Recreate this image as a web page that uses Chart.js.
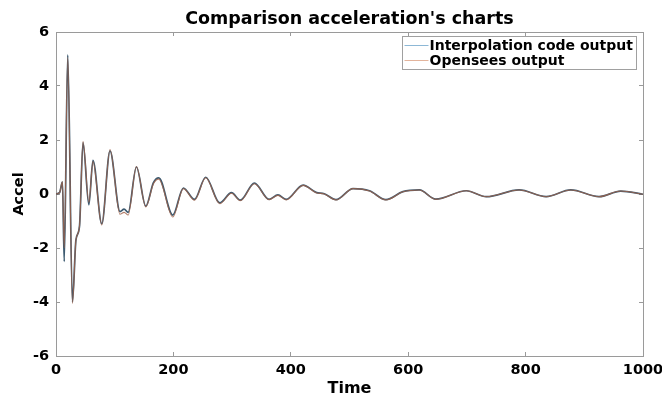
<!DOCTYPE html>
<html>
<head>
<meta charset="utf-8">
<title>Comparison acceleration's charts</title>
<script src="https://cdn.jsdelivr.net/npm/chart.js@4.4.1/dist/chart.umd.min.js"></script>
<style>
  html, body { margin: 0; padding: 0; background: #fff; }
</style>
</head>
<body>
<canvas id="accelChart" width="662" height="396"></canvas>
<script>
// values
const time = [0, 6, 11, 14, 20, 28, 34, 40, 46, 56, 63, 78, 92, 109, 116, 123, 137, 153, 166, 175,
  199, 217, 236, 255, 279, 299, 314, 338, 363, 378, 392, 421, 443, 457, 477, 506, 534, 562, 591,
  619, 647, 699, 733, 789, 835, 877, 925, 962, 1000];

const interpAccel = [0, 0.05, 0.45, -2.5, 5.15, -4.0, -1.7, -1.2, 1.9, -0.4, 1.25, -1.1, 1.6, -0.65,
  -0.56, -0.68, 1.0, -0.45, 0.42, 0.6, -0.78, 0.22, -0.2, 0.62, -0.33, 0.05, -0.23, 0.4, -0.2, -0.03,
  -0.2, 0.33, 0.06, 0.01, -0.21, 0.2, 0.12, -0.21, 0.09, 0.15, -0.19, 0.12, -0.1, 0.15, -0.1, 0.15,
  -0.1, 0.11, -0.01];

const openseesAccel = [0, 0.05, 0.45, -2.0, 5.05, -4.05, -1.7, -1.2, 1.95, -0.3, 1.2, -1.15, 1.65, -0.75,
  -0.68, -0.78, 1.02, -0.48, 0.38, 0.55, -0.85, 0.2, -0.23, 0.6, -0.36, 0.03, -0.25, 0.38, -0.21, -0.05,
  -0.22, 0.32, 0.05, 0.0, -0.22, 0.2, 0.11, -0.22, 0.08, 0.15, -0.2, 0.12, -0.1, 0.15, -0.1, 0.15,
  -0.1, 0.11, -0.01];

const seriesLabels = ['Interpolation code output', 'Opensees output'];
const xTicks = { min: 0, max: 1000, step: 200 };
const yTicks = { min: -6, max: 6, step: 2 };

const axisGray = '#9a9a9a';

function toPoints(xs, ys) {
  return xs.map((x, i) => ({ x: x, y: ys[i] }));
}

// legend box drawn inside the plot, top right (like MATLAB's)
const boxLegend = {
  id: 'boxLegend',
  afterDatasetsDraw(chart) {
    const ctx = chart.ctx;
    const area = chart.chartArea;
    const sets = chart.data.datasets;
    ctx.save();
    ctx.font = "bold 14px 'DejaVu Sans'";
    let textW = 0;
    sets.forEach(ds => { textW = Math.max(textW, ctx.measureText(ds.label).width); });
    const w = Math.round(textW + 31);
    const h = 33;
    const x = Math.round(area.right - 7 - w) + 0.5;
    const y = Math.round(area.top + 4) + 0.5;
    ctx.fillStyle = '#fff';
    ctx.fillRect(x, y, w, h);
    ctx.strokeStyle = '#a0a0a0';
    ctx.lineWidth = 1;
    ctx.strokeRect(x, y, w, h);
    sets.forEach((ds, i) => {
      const ly = y + 9 + i * 15;
      ctx.strokeStyle = ds.legendColor;
      ctx.beginPath();
      ctx.moveTo(x + 2, ly);
      ctx.lineTo(x + 26, ly);
      ctx.stroke();
      ctx.fillStyle = '#000';
      ctx.textBaseline = 'middle';
      ctx.textAlign = 'left';
      ctx.fillText(ds.label, x + 27, ly + 0.5);
    });
    ctx.restore();
  }
};

Chart.defaults.font.family = "'DejaVu Sans', sans-serif";
Chart.defaults.font.weight = 'bold';
Chart.defaults.color = '#000';

new Chart(document.getElementById('accelChart'), {
  type: 'line',
  data: {
    datasets: [
      {
        label: seriesLabels[0],
        data: toPoints(time, interpAccel),
        borderColor: '#3c5a70',
        legendColor: '#8db8d6',
        borderWidth: 1.7,
        pointRadius: 0,
        cubicInterpolationMode: 'monotone',
        order: 2,
      },
      {
        label: seriesLabels[1],
        data: toPoints(time, openseesAccel),
        borderColor: 'rgba(160, 98, 72, 0.8)',
        legendColor: '#e3b49c',
        borderWidth: 1.1,
        pointRadius: 0,
        cubicInterpolationMode: 'monotone',
        order: 1,
      },
    ],
  },
  options: {
    responsive: false,
    animation: false,
    layout: { padding: { left: 0, right: 19, top: 0, bottom: 0 } },
    plugins: {
      legend: { display: false },
      tooltip: { enabled: false },
      title: {
        display: true,
        fullSize: false,
        text: "Comparison acceleration's charts",
        color: '#000',
        font: { size: 17.5, weight: 'bold' },
        padding: { top: 9, bottom: 2 },
      },
    },
    scales: {
      x: {
        type: 'linear',
        position: 'bottom',
        min: xTicks.min,
        max: xTicks.max,
        ticks: {
          stepSize: xTicks.step, padding: 10, maxRotation: 0, autoSkip: false, font: { size: 14.5 },
          callback: v => String(v),
        },
        grid: { drawOnChartArea: false, tickLength: -4, color: axisGray },
        border: { color: axisGray },
        title: { display: true, text: 'Time', font: { size: 16, weight: 'bold', lineHeight: 0.9 }, padding: 0 },
        afterFit(s) { s.height = 40; s.paddingLeft = 0; s.paddingRight = 0; },
      },
      y: {
        type: 'linear',
        position: 'left',
        min: yTicks.min,
        max: yTicks.max,
        ticks: { stepSize: yTicks.step, padding: 11, font: { size: 14.5 }, callback: v => String(v) },
        grid: { drawOnChartArea: false, tickLength: -4, color: axisGray },
        border: { color: axisGray },
        title: { display: true, text: 'Accel', font: { size: 14.5, weight: 'bold', lineHeight: 1.2 }, padding: { top: 11, bottom: 0 } },
        afterFit(s) { s.width = 56; s.paddingTop = 0; s.paddingBottom = 0; },
      },
      x2: {
        type: 'linear',
        position: 'top',
        min: xTicks.min,
        max: xTicks.max,
        ticks: { stepSize: xTicks.step, display: false },
        grid: { drawOnChartArea: false, tickLength: -4, color: axisGray },
        border: { color: axisGray },
        afterFit(s) { s.height = 0; s.paddingLeft = 0; s.paddingRight = 0; },
      },
      y2: {
        type: 'linear',
        position: 'right',
        min: yTicks.min,
        max: yTicks.max,
        ticks: { stepSize: yTicks.step, display: false },
        grid: { drawOnChartArea: false, tickLength: -4, color: axisGray },
        border: { color: axisGray },
        afterFit(s) { s.width = 0; s.paddingTop = 0; s.paddingBottom = 0; },
      },
    },
  },
  plugins: [boxLegend],
});
</script>
</body>
</html>
